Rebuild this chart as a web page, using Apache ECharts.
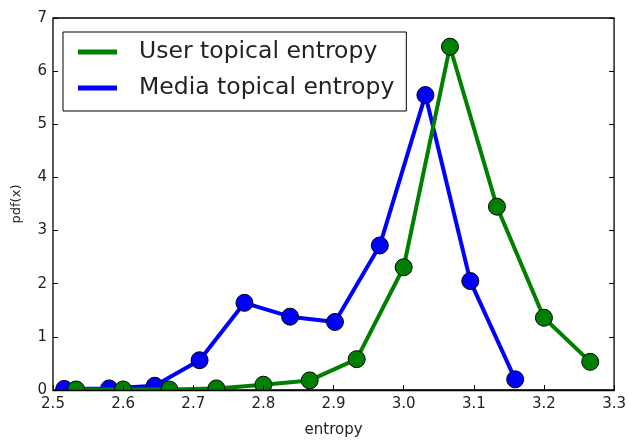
<!DOCTYPE html>
<html><head><meta charset="utf-8">
<script src="https://cdn.jsdelivr.net/npm/echarts@6/dist/echarts.min.js"></script>
<style>html,body{margin:0;padding:0;background:#fff}#c{width:629px;height:443px}</style>
</head><body><div id="c"></div>
<script>
const userX = [2.533, 2.600, 2.666, 2.733, 2.800, 2.866, 2.933, 3.000, 3.066, 3.133, 3.200, 3.266];
const userY = [0.01, 0.01, 0.01, 0.03, 0.10, 0.18, 0.58, 2.31, 6.46, 3.45, 1.36, 0.53];
const mediaX = [2.516, 2.580, 2.645, 2.709, 2.773, 2.838, 2.902, 2.966, 3.031, 3.095, 3.159];
const mediaY = [0.02, 0.03, 0.08, 0.56, 1.64, 1.38, 1.28, 2.72, 5.55, 2.05, 0.20];
const seriesNames = ['User topical entropy', 'Media topical entropy'];
const xTicks = [2.5, 2.6, 2.7, 2.8, 2.9, 3.0, 3.1, 3.2, 3.3];
const yTicks = [0, 1, 2, 3, 4, 5, 6, 7];

const F = 'DejaVu Sans';
const W = 629, H = 443;
const chart = echarts.init(document.getElementById('c'));
const pair = (xs, ys) => xs.map((x, i) => [x, ys[i]]);
const tick = {show: true, inside: true, length: 5, lineStyle: {color: '#000', width: 1}};
chart.setOption({
  animation: false,
  grid: {left: 53, right: 13, top: 18, bottom: 49, show: true, borderColor: '#000', borderWidth: 1.3},
  xAxis: [{
    type: 'value', min: xTicks[0], max: xTicks[xTicks.length - 1], interval: 0.1, z: 10,
    axisLine: {show: true, lineStyle: {color: '#000', width: 1.3}}, axisTick: tick, splitLine: {show: false},
    axisLabel: {color: '#222', fontFamily: F, fontSize: 15, margin: 7, formatter: v => v.toFixed(1)},
    name: 'entropy', nameLocation: 'middle', nameGap: 33,
    nameTextStyle: {color: '#222', fontFamily: F, fontSize: 15}
  }, {
    type: 'value', position: 'top', min: xTicks[0], max: xTicks[xTicks.length - 1], interval: 0.1,
    axisLine: {show: false}, axisTick: tick, axisLabel: {show: false}, splitLine: {show: false}
  }],
  yAxis: [{
    type: 'value', min: yTicks[0], max: yTicks[yTicks.length - 1], interval: 1, z: 10,
    axisLine: {show: false}, axisTick: tick, splitLine: {show: false},
    axisLabel: {color: '#222', fontFamily: F, fontSize: 15, margin: 6},
    name: 'pdf(x)', nameLocation: 'middle', nameGap: 30, nameRotate: 90,
    nameTextStyle: {color: '#222', fontFamily: F, fontSize: 13}
  }, {
    type: 'value', position: 'right', min: yTicks[0], max: yTicks[yTicks.length - 1], interval: 1,
    axisLine: {show: false}, axisTick: tick, axisLabel: {show: false}, splitLine: {show: false}
  }],
  legend: {
    orient: 'vertical', left: 63, top: 32, padding: [8, 12, 11, 15], z: 20,
    backgroundColor: '#fff', borderColor: '#000', borderWidth: 1, borderRadius: 0,
    itemWidth: 39, itemHeight: 5, itemGap: 12, icon: 'rect',
    itemStyle: {borderWidth: 0},
    textStyle: {fontFamily: F, fontSize: 23.5, color: '#222', padding: [0, 0, 0, 17]},
    data: seriesNames
  },
  series: [{
    name: seriesNames[0], type: 'line', data: pair(userX, userY), z: 3,
    lineStyle: {color: '#008000', width: 4}, itemStyle: {color: '#008000', borderColor: '#000', borderWidth: 1},
    symbol: 'circle', symbolSize: 17, showAllSymbol: true
  }, {
    name: seriesNames[1], type: 'line', data: pair(mediaX, mediaY), z: 2,
    lineStyle: {color: '#0000ff', width: 4}, itemStyle: {color: '#0000ff', borderColor: '#000', borderWidth: 1},
    symbol: 'circle', symbolSize: 17, showAllSymbol: true
  }]
});
// mask below the plot area so markers are clipped at the axes edge (like matplotlib)
const y0 = chart.convertToPixel({yAxisIndex: 0}, yTicks[0]);
chart.setOption({
  graphic: [{
    type: 'rect', z: 5, silent: true,
    shape: {x: 0, y: y0 + 0.7, width: W, height: H - y0},
    style: {fill: '#fff'}
  }]
});
</script></body></html>
